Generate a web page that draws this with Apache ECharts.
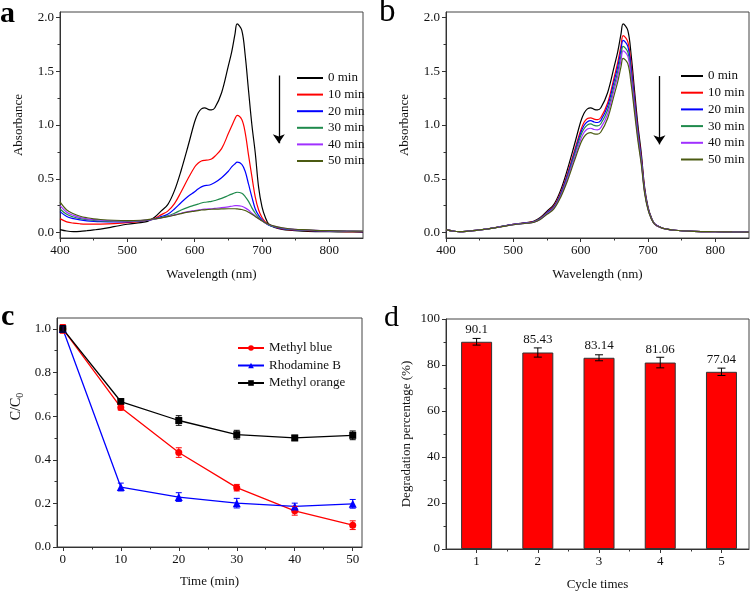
<!DOCTYPE html>
<html>
<head>
<meta charset="utf-8">
<script src="https://cdn.jsdelivr.net/npm/echarts@6/dist/echarts.min.js"></script>
<style>html,body{margin:0;padding:0;background:#fff}#c{width:756px;height:594px}</style>
</head>
<body>
<div id="c"></div>
<script>
// ---------- DATA ----------
const lam = [400,410,420,430,440,450,460,480,500,520,530,540,550,560,570,580,590,600,605,610,615,620,625,630,640,650,655,660,663,670,675,680,685,690,695,700,705,710,720,730,740,760,780,800,825,850];
const timeNames = ['0 min','10 min','20 min','30 min','40 min','50 min'];
// panel a
const A_0  = [0.028,0.015,0.01,0.012,0.018,0.025,0.033,0.055,0.078,0.093,0.105,0.14,0.2,0.26,0.39,0.58,0.8,1.03,1.11,1.15,1.16,1.145,1.14,1.16,1.3,1.55,1.68,1.85,1.94,1.88,1.65,1.32,1.0,0.74,0.42,0.24,0.14,0.08,0.045,0.03,0.022,0.014,0.01,0.008,0.006,0.005];
const A_10 = [0.13,0.1,0.088,0.082,0.079,0.078,0.079,0.084,0.092,0.105,0.115,0.13,0.165,0.2,0.27,0.38,0.5,0.61,0.645,0.665,0.672,0.675,0.685,0.71,0.78,0.92,0.99,1.06,1.09,1.05,0.93,0.72,0.52,0.33,0.21,0.14,0.1,0.075,0.05,0.035,0.028,0.02,0.015,0.012,0.01,0.008];
const A_20 = [0.195,0.15,0.13,0.118,0.11,0.105,0.102,0.1,0.1,0.108,0.115,0.128,0.148,0.17,0.22,0.28,0.335,0.38,0.405,0.425,0.437,0.44,0.45,0.465,0.51,0.57,0.61,0.64,0.655,0.635,0.57,0.45,0.33,0.22,0.16,0.12,0.09,0.07,0.05,0.037,0.03,0.022,0.017,0.014,0.012,0.01];
const A_30 = [0.22,0.17,0.145,0.13,0.12,0.113,0.108,0.105,0.105,0.11,0.117,0.126,0.14,0.155,0.18,0.21,0.235,0.255,0.265,0.275,0.282,0.286,0.29,0.298,0.318,0.345,0.358,0.37,0.375,0.365,0.335,0.29,0.23,0.18,0.14,0.11,0.09,0.072,0.052,0.04,0.032,0.024,0.019,0.016,0.013,0.011];
const A_40 = [0.25,0.19,0.16,0.14,0.128,0.12,0.115,0.11,0.108,0.112,0.118,0.126,0.137,0.15,0.165,0.18,0.195,0.205,0.21,0.215,0.218,0.22,0.222,0.226,0.232,0.24,0.245,0.25,0.25,0.245,0.23,0.21,0.18,0.155,0.13,0.11,0.09,0.075,0.055,0.043,0.035,0.026,0.02,0.017,0.014,0.012];
const A_50 = [0.285,0.21,0.175,0.152,0.138,0.128,0.122,0.115,0.112,0.115,0.12,0.127,0.137,0.148,0.162,0.177,0.19,0.2,0.205,0.21,0.212,0.215,0.217,0.218,0.22,0.222,0.222,0.222,0.22,0.215,0.205,0.19,0.17,0.15,0.128,0.11,0.092,0.078,0.058,0.045,0.036,0.027,0.021,0.018,0.015,0.013];
// panel b
const B_0  = [0.028,0.015,0.01,0.012,0.018,0.025,0.033,0.055,0.078,0.093,0.105,0.14,0.2,0.26,0.39,0.58,0.8,1.03,1.11,1.15,1.16,1.145,1.14,1.16,1.3,1.55,1.68,1.85,1.94,1.88,1.65,1.32,1.0,0.74,0.42,0.24,0.14,0.08,0.045,0.03,0.022,0.014,0.01,0.008,0.006,0.005];
const B_10 = [0.028,0.015,0.01,0.012,0.018,0.025,0.033,0.054,0.077,0.091,0.102,0.134,0.19,0.245,0.365,0.54,0.745,0.95,1.025,1.06,1.067,1.055,1.05,1.07,1.205,1.45,1.58,1.74,1.83,1.775,1.56,1.25,0.95,0.7,0.4,0.23,0.135,0.08,0.045,0.03,0.022,0.014,0.01,0.008,0.006,0.005];
const B_20 = [0.028,0.015,0.01,0.012,0.018,0.025,0.033,0.054,0.076,0.09,0.1,0.131,0.185,0.238,0.355,0.525,0.725,0.925,0.995,1.03,1.04,1.028,1.023,1.043,1.175,1.415,1.54,1.7,1.786,1.73,1.52,1.22,0.93,0.685,0.39,0.225,0.133,0.08,0.045,0.03,0.022,0.014,0.01,0.008,0.006,0.005];
const B_30 = [0.028,0.015,0.01,0.012,0.018,0.025,0.033,0.053,0.075,0.089,0.098,0.128,0.18,0.232,0.345,0.51,0.705,0.9,0.965,1.0,1.01,0.997,0.992,1.012,1.14,1.37,1.495,1.65,1.73,1.678,1.475,1.185,0.905,0.668,0.382,0.222,0.131,0.079,0.045,0.03,0.022,0.014,0.01,0.008,0.006,0.005];
const B_40 = [0.028,0.015,0.01,0.012,0.018,0.025,0.033,0.053,0.074,0.088,0.096,0.125,0.175,0.225,0.335,0.495,0.68,0.865,0.93,0.962,0.97,0.958,0.955,0.975,1.1,1.335,1.455,1.605,1.69,1.64,1.44,1.16,0.885,0.655,0.375,0.218,0.129,0.078,0.044,0.03,0.022,0.014,0.01,0.008,0.006,0.005];
const B_50 = [0.028,0.015,0.01,0.012,0.018,0.025,0.033,0.052,0.073,0.087,0.094,0.122,0.17,0.218,0.325,0.475,0.655,0.83,0.89,0.92,0.93,0.918,0.915,0.935,1.06,1.285,1.4,1.545,1.62,1.57,1.38,1.115,0.855,0.635,0.365,0.213,0.127,0.077,0.044,0.03,0.022,0.014,0.01,0.008,0.006,0.005];
// panel c
const times = [0,10,20,30,40,50];
const dyeNames = ['Methyl blue','Rhodamine B','Methyl orange'];
const mb = [1.0,0.64,0.433,0.272,0.166,0.1];
const mbErr = [0.02,0.012,0.022,0.015,0.02,0.02];
const rb = [1.0,0.275,0.229,0.201,0.186,0.198];
const rbErr = [0.015,0.018,0.02,0.022,0.015,0.02];
const mo = [1.0,0.667,0.58,0.515,0.5,0.512];
const moErr = [0.015,0.012,0.022,0.02,0.012,0.02];
// panel d
const cycles = [1,2,3,4,5];
const deg = [90.1,85.43,83.14,81.06,77.04];
const degErr = [1.45,2.0,1.3,2.3,1.6];
// ticks
const abX = [400,500,600,700,800], abXm = [450,550,650,750];
const abY = [0,0.5,1.0,1.5,2.0], abYm = [0.25,0.75,1.25,1.75];
const cX = [0,10,20,30,40,50], cXm = [5,15,25,35,45];
const cY = [0,0.2,0.4,0.6,0.8,1.0], cYm = [0.1,0.3,0.5,0.7,0.9];
const dX = [1,2,3,4,5], dXm = [1.5,2.5,3.5,4.5];
const dY = [0,20,40,60,80,100], dYm = [10,30,50,70,90];
// arrows (data coords)
const arrowA = {x:725, from:1.46, to:0.83};
const arrowB = {x:717, from:1.455, to:0.82};

// ---------- STYLE ----------
const FONT = 'Liberation Serif';
const lineColors = ['#000000','#ff0000','#0000ff','#1f8a4c','#a030ff','#4b5a12'];
const AX = '#333';

function axisPair(dim, gi, min, max, majors, minors, fmt, name, gap, extraName) {
  const main = {
    type:'value', gridIndex:gi, min:min, max:max,
    position: dim==='x' ? 'bottom' : 'left',
    axisLine:{show:true, onZero:false, lineStyle:{color:AX, width:1}},
    axisTick:{show:true, inside:false, length:4, customValues:majors, lineStyle:{color:AX, width:1}},
    axisLabel:{show:true, customValues:majors, formatter:fmt, fontFamily:FONT, fontSize:13, color:'#111', margin:6},
    splitLine:{show:false},
    name:name, nameLocation:'middle', nameGap:gap,
    nameTextStyle:Object.assign({fontFamily:FONT, fontSize:13, color:'#111'}, extraName||{})
  };
  const minor = {
    type:'value', gridIndex:gi, min:min, max:max,
    position: dim==='x' ? 'bottom' : 'left',
    axisLine:{show:false, onZero:false},
    axisTick:{show:true, inside:false, length:2.5, customValues:minors, lineStyle:{color:AX, width:1}},
    axisLabel:{show:false},
    splitLine:{show:false}
  };
  return [main, minor];
}
const f1 = v => Number(v).toFixed(1);
const f0 = v => String(Math.round(v));

const xAxis = [].concat(
  axisPair('x',0,400,850,abX,abXm,f0,'Wavelength (nm)',30),
  axisPair('x',1,400,850,abX,abXm,f0,'Wavelength (nm)',30),
  axisPair('x',2,-1,51.6,cX,cXm,f0,'Time (min)',28),
  axisPair('x',3,0.5,5.45,dX,dXm,f0,'Cycle times',29)
);
const yAxis = [].concat(
  axisPair('y',0,-0.05,2.05,abY,abYm,f1,'Absorbance',35),
  axisPair('y',1,-0.05,2.05,abY,abYm,f1,'Absorbance',35),
  axisPair('y',2,0,1.05,cY,cYm,f1,'{a|C/C}{s|0}',32,{
    padding:[0,0,0,52],
    rich:{a:{fontFamily:FONT,fontSize:14,color:'#111',verticalAlign:'middle'},
          s:{fontFamily:FONT,fontSize:10,color:'#111',verticalAlign:'bottom',padding:[8,0,0,0]}}}),
  axisPair('y',3,0,100,dY,dYm,f0,'Degradation percentage (%)',33)
);

const grid = [
  {left:60, top:12, width:303, height:226},
  {left:446, top:12, width:303, height:226},
  {left:57, top:318, width:305, height:229},
  {left:446, top:319, width:303, height:230}
].map(g => Object.assign(g, {show:true, borderColor:'#444', borderWidth:1, backgroundColor:'transparent', containLabel:false}));

const A = [A_0,A_10,A_20,A_30,A_40,A_50];
const B = [B_0,B_10,B_20,B_30,B_40,B_50];
const series = [];
function specSeries(arr, axisIdx, arrow) {
  arr.forEach((vals, k) => {
    const s = {
      type:'line', name:timeNames[k], xAxisIndex:axisIdx, yAxisIndex:axisIdx,
      data: lam.map((l,i) => [l, vals[i]]),
      showSymbol:false, symbol:'none', smooth:0.35,
      lineStyle:{color:lineColors[k], width:1.2}, itemStyle:{color:lineColors[k]}, z:2
    };
    if (k===0) {
      s.markLine = {silent:true, symbol:['none','arrow'], symbolSize:9,
        lineStyle:{color:'#000', type:'solid', width:1.3}, itemStyle:{color:'#000'}, label:{show:false},
        data:[[{coord:[arrow.x, arrow.from]},{coord:[arrow.x, arrow.to]}]]};
    }
    series.push(s);
  });
}
specSeries(A, 0, arrowA);
specSeries(B, 2, arrowB);

function errSeries(axisIdx, xs, ys, es, color, cap) {
  return {
    type:'custom', xAxisIndex:axisIdx, yAxisIndex:axisIdx, silent:true, z:4,
    data: xs.map((x,i) => [x, ys[i]-es[i], ys[i]+es[i]]),
    encode:{x:0, y:[1,2]},
    renderItem:(params, api) => {
      const x = api.value(0);
      const lo = api.coord([x, api.value(1)]);
      const hi = api.coord([x, api.value(2)]);
      const st = {stroke:color, lineWidth:1};
      return {type:'group', children:[
        {type:'line', shape:{x1:lo[0],y1:lo[1],x2:hi[0],y2:hi[1]}, style:st},
        {type:'line', shape:{x1:lo[0]-cap,y1:lo[1],x2:lo[0]+cap,y2:lo[1]}, style:st},
        {type:'line', shape:{x1:hi[0]-cap,y1:hi[1],x2:hi[0]+cap,y2:hi[1]}, style:st}
      ]};
    }
  };
}
const cSets = [
  {name:dyeNames[0], v:mb, e:mbErr, c:'#ff0000', sym:'circle', size:7},
  {name:dyeNames[1], v:rb, e:rbErr, c:'#0000ff', sym:'triangle', size:8},
  {name:dyeNames[2], v:mo, e:moErr, c:'#000000', sym:'rect', size:7}
];
cSets.forEach(s => {
  series.push(errSeries(4, times, s.v, s.e, s.c, 3));
  series.push({type:'line', name:s.name, xAxisIndex:4, yAxisIndex:4,
    data: times.map((t,i)=>[t, s.v[i]]), symbol:s.sym, symbolSize:s.size, showSymbol:true,
    lineStyle:{color:s.c, width:1.3}, itemStyle:{color:s.c}, z:3});
});
series.push({type:'bar', xAxisIndex:6, yAxisIndex:6, barWidth:31,
  data: cycles.map((c,i)=>[c, deg[i]]),
  itemStyle:{color:'#ff0000', borderColor:'#333', borderWidth:1},
  label:{show:true, position:'top', distance:6, fontFamily:FONT, fontSize:13, color:'#111',
    formatter:p => String(p.value[1])}, z:2});
series.push(errSeries(6, cycles, deg, degErr, '#000', 4));

const legendText = {fontFamily:FONT, fontSize:13, color:'#111', lineHeight:14};
const legend = [
  {data:timeNames, orient:'vertical', padding:0, left:297, top:71, itemWidth:26, itemHeight:2, itemGap:2.6,
   icon:'rect', textStyle:legendText, selectedMode:false},
  {data:timeNames, orient:'vertical', padding:0, left:681, top:69, itemWidth:22, itemHeight:2, itemGap:2.7,
   icon:'rect', textStyle:legendText, selectedMode:false},
  {data:dyeNames, orient:'vertical', padding:0, left:237, top:341, itemWidth:26, itemHeight:7, itemGap:3.5,
   textStyle:legendText, selectedMode:false}
];

const letter = (t, x, y, size, weight) => ({type:'text', silent:true,
  style:{text:t, x:x, y:y, font:weight+' '+size+'px "Liberation Serif"', fill:'#000'}});
const graphic = [
  letter('a', 0, -1, 30, 'bold'),
  letter('b', 379, -4, 33, 'normal'),
  letter('c', 1, 302, 30, 'bold'),
  letter('d', 384, 303, 30, 'normal')
];

const chart = echarts.init(document.getElementById('c'), null, {renderer:'canvas'});
chart.setOption({animation:false, backgroundColor:'#fff', textStyle:{fontFamily:FONT},
  grid, xAxis, yAxis, legend, series, graphic});
</script>
</body>
</html>
